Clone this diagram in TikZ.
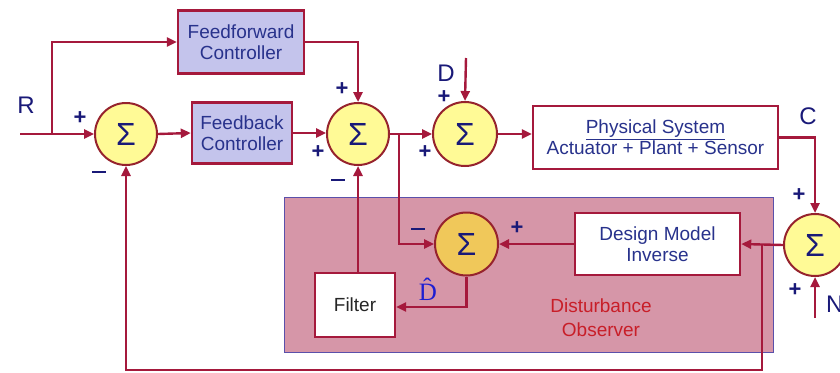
\documentclass[tikz,border=0pt]{standalone}
\usepackage{fontspec}
\setmainfont{Liberation Sans}
\newfontfamily\hatserif{Liberation Serif}
\usetikzlibrary{arrows.meta,calc}
\definecolor{wire}{RGB}{165,25,60}
\definecolor{rim}{RGB}{150,35,45}
\definecolor{sumfill}{RGB}{255,250,150}
\definecolor{sumfilltwo}{RGB}{240,200,90}
\definecolor{ctrlfill}{RGB}{196,196,236}
\definecolor{txtblue}{RGB}{40,50,140}
\definecolor{signblue}{RGB}{25,25,120}
\definecolor{dofill}{RGB}{214,150,168}
\definecolor{doedge}{RGB}{90,80,170}
\definecolor{dotext}{RGB}{200,30,40}
\definecolor{hatblue}{RGB}{30,30,210}
\begin{document}
\begin{tikzpicture}[x=1pt,y=-1pt,
  font=\fontsize{19}{21}\selectfont,
  wirestyle/.style={draw=wire,line width=2.4pt,-{Triangle[length=10pt,width=9pt]}},
  sumnode/.style={circle,draw=rim,line width=2pt,fill=sumfill,minimum size=62pt,inner sep=0pt,
     text=signblue,font=\fontsize{32}{32}\selectfont},
  ctrlbox/.style={rectangle,draw=wire,line width=2.4pt,fill=ctrlfill,text=txtblue,align=center,inner sep=0pt},
  whitebox/.style={rectangle,draw=wire,line width=2.4pt,fill=white,text=txtblue,align=center,inner sep=0pt},
  sign/.style={text=signblue,font=\bfseries\fontsize{22}{22}\selectfont,inner sep=0pt},
  minussign/.style={fill=signblue,minimum width=14pt,minimum height=2.6pt,inner sep=0pt},
  siglabel/.style={text=signblue,font=\fontsize{24}{24}\selectfont,inner sep=0pt}]
\useasboundingbox (0,0) rectangle (840,372);
% disturbance observer background
\node[draw=doedge,line width=1pt,fill=dofill,minimum width=489pt,minimum height=155pt,inner sep=0pt] (dobox) at (528.5,274.5) {};
\node[text=dotext,align=center,font=\fontsize{19}{24}\selectfont] (dolabel) at (601,318) {Disturbance\\Observer};
% nodes
\node[sumnode] (s1) at (126,134) {Σ};
\node[ctrlbox,minimum width=126pt,minimum height=63pt] (ff) at (241,42) {Feedforward\\Controller};
\node[ctrlbox,minimum width=100pt,minimum height=61pt] (fb) at (242,133) {Feedback\\Controller};
\node[sumnode] (s2) at (358,134) {Σ};
\node[sumnode,minimum size=64pt] (s3) at (465,134) {Σ};
\node[whitebox,minimum width=245pt,minimum height=63pt] (phys) at (655.5,137.5) {\underline{Physical System}\\Actuator + Plant + Sensor};
\node[sumnode] (s5) at (815,245) {Σ};
\node[whitebox,minimum width=165pt,minimum height=62pt] (dmi) at (657.5,244) {Design Model\\Inverse};
\node[sumnode,fill=sumfilltwo,minimum size=63pt] (s4) at (466.5,244) {Σ};
\node[whitebox,minimum width=80pt,minimum height=64pt,text=black!85] (filter) at (355,305) {Filter};
% coordinates
\coordinate (rin) at (20,134);
\coordinate (rbr) at (52,134);
\coordinate (ffcorner) at (358,42);
\coordinate (s2br) at (399,134);
\coordinate (dcorner) at (399,244);
\coordinate (din) at (466,58);
\coordinate (ccorner) at (815,137.5);
\coordinate (fbbr) at (762,245);
\coordinate (fbbot) at (762,370);
\coordinate (fbleft) at (126,370);
\coordinate (dhatcorner) at (466.5,307);
\coordinate (nin) at (815,318);
% connectors
\draw[wirestyle] (rin) -- (s1.west);
\draw[wirestyle] (rbr) -- (rbr |- ff.west) -- (ff.west);
\draw[wirestyle] (s1.east) -- (fb.west);
\draw[wirestyle] (fb.east) -- (fb.east -| s2.west);
\draw[wirestyle] (ff.east) -- (ffcorner) -- (s2.north);
\draw[wirestyle] (s2.east) -- (s3.west);
\draw[wirestyle] (s2br) -- (dcorner) -- (s4.west);
\draw[wirestyle] (din) -- (s3.north);
\draw[wirestyle] (s3.east) -- (s3.east -| phys.west);
\draw[wirestyle] (phys.east) -- (ccorner) -- (s5.north);
\draw[wirestyle] (s5.west) -- (dmi.east);
\draw[wirestyle] (fbbr) -- (fbbot) -- (fbleft) -- (s1.south);
\draw[wirestyle] (dmi.west) -- (s4.east);
\draw[wirestyle] (s4.south) -- (dhatcorner) -- (dhatcorner -| filter.east);
\draw[wirestyle] (filter.north -| s2.south) -- (s2.south);
\draw[wirestyle] (nin) -- (s5.south);
% labels
\node[siglabel] (lr) at (26,105) {R};
\node[siglabel] (ld) at (446,73) {D};
\node[siglabel] (lc) at (808,116) {C};
\node[siglabel,anchor=west] (ln) at (826,304) {N};
\node[text=hatblue,inner sep=0pt,font=\hatserif\fontsize{25}{25}\selectfont] (ldhat) at (428,289) {\^{D}};
% signs
\node[sign] (p1) at (80,118) {+};
\node[minussign] (m1) at (99,172) {};
\node[sign] (p2a) at (342,89) {+};
\node[sign] (p2b) at (318,152) {+};
\node[minussign] (m2) at (338,180) {};
\node[sign] (p3a) at (444,97) {+};
\node[sign] (p3b) at (425,152) {+};
\node[minussign] (m4) at (418,229) {};
\node[sign] (p4) at (517,228) {+};
\node[sign] (p5a) at (799,195) {+};
\node[sign] (p5b) at (795,290) {+};
\end{tikzpicture}
\end{document}
